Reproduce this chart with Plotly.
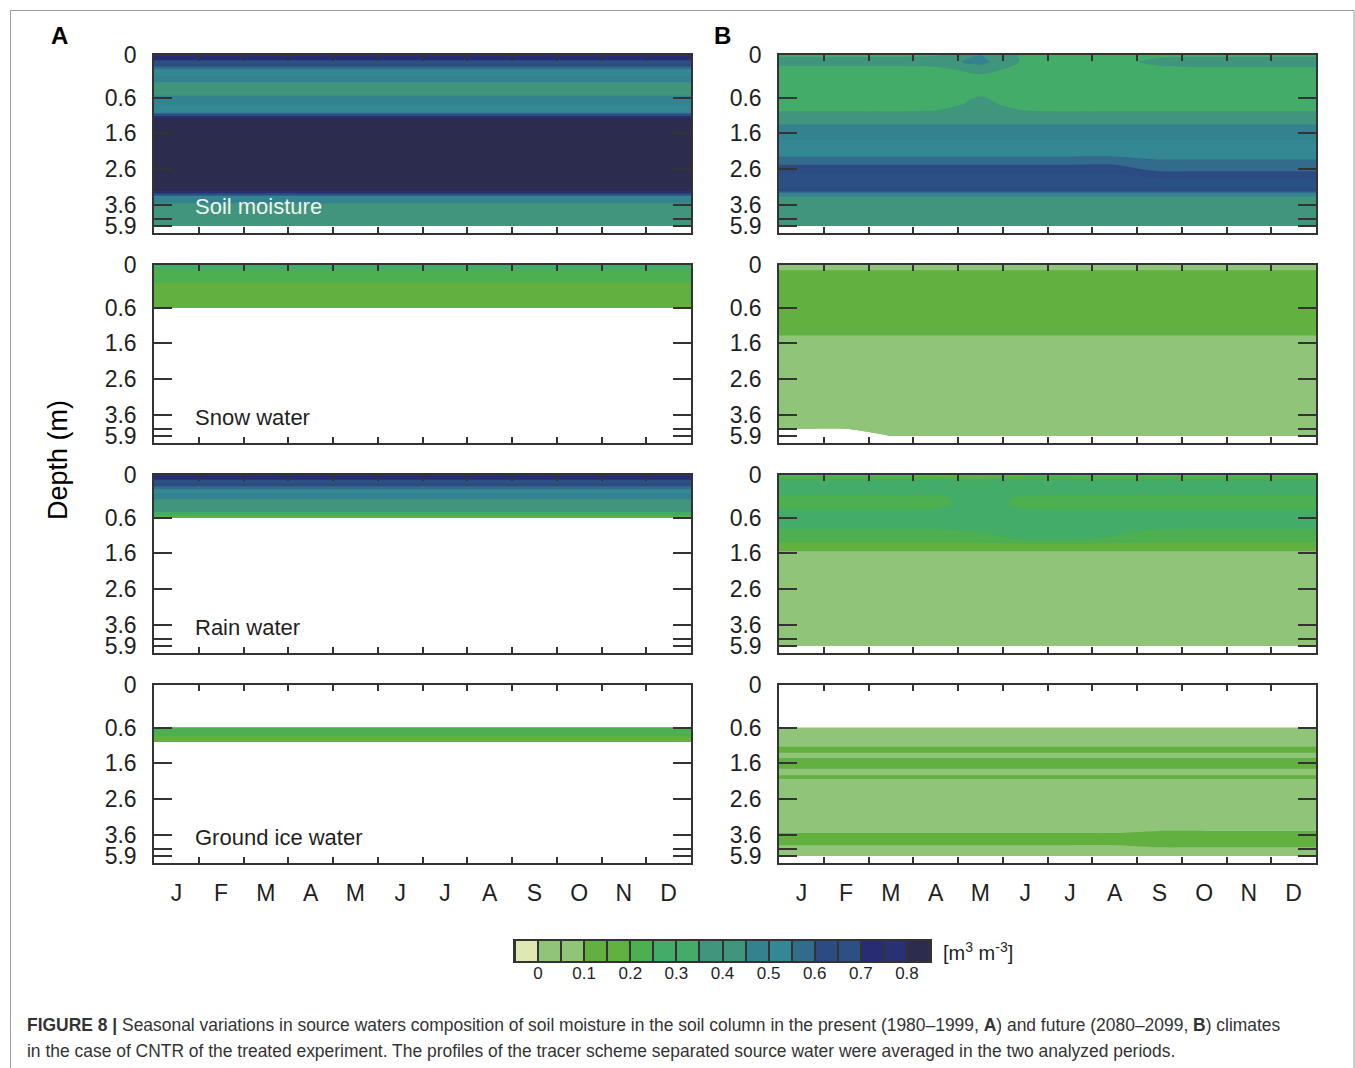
import numpy as np
import plotly.graph_objects as go

W, H = 1355, 1068
FONT = "Liberation Sans, Arial, Helvetica, sans-serif"
INK = "#1f1f1f"
FRAME = "#333333"

# ---------------------------------------------------------------- axes data
months = ["J", "F", "M", "A", "M", "J", "J", "A", "S", "O", "N", "D"]
month_centres = [0.5, 1.5, 2.5, 3.5, 4.5, 5.5, 6.5, 7.5, 8.5, 9.5, 10.5, 11.5]
month_bounds = [1, 2, 3, 4, 5, 6, 7, 8, 9, 10, 11]

# soil nodes (model levels, 0 = surface) and the depth of the labelled nodes [m]
nodes = list(range(25))
node_ticks = [0, 6, 11, 16, 21, 23, 24]
node_tick_text = ["0", "0.6", "1.6", "2.6", "3.6", "", "5.9"]

# colour classes [m3 m-3]
class_edges = [-0.05, 0.0, 0.05, 0.10, 0.15, 0.20, 0.25, 0.30, 0.35, 0.40,
               0.45, 0.50, 0.55, 0.60, 0.65, 0.70, 0.75, 0.80, 0.85]
class_colors = ["#dde9b0", "#90c478", "#90c478", "#62b040", "#62b040", "#4caf50",
                "#43ac68", "#43ac68", "#40957d", "#40957d", "#33828f", "#348893",
                "#336b8c", "#2b4c82", "#2b5084", "#282c72", "#2a3173", "#2c2c4f"]
bar_ticks = [0, 0.1, 0.2, 0.3, 0.4, 0.5, 0.6, 0.7, 0.8]
bar_tick_text = ["0", "0.1", "0.2", "0.3", "0.4", "0.5", "0.6", "0.7", "0.8"]

N = None  # no water of this source at the node

# ------------------------------------------- present climate (1980-1999), per node
soil_present = [0.76, 0.68, 0.55, 0.50, 0.44, 0.40, 0.47, 0.50, 0.52, 0.84, 0.84, 0.84,
                0.84, 0.84, 0.84, 0.84, 0.84, 0.84, 0.84, 0.84, 0.50, 0.44, 0.40, 0.40, 0.40]
snow_present = [0.27, 0.24, 0.21, 0.19, 0.18, 0.17, 0.16, N, N, N, N, N,
                N, N, N, N, N, N, N, N, N, N, N, N, N]
rain_present = [0.76, 0.67, 0.55, 0.47, 0.42, 0.40, 0.15, N, N, N, N, N,
                N, N, N, N, N, N, N, N, N, N, N, N, N]
ice_present = [N, N, N, N, N, N, 0.22, 0.22, 0.12, N, N, N,
               N, N, N, N, N, N, N, N, N, N, N, N, N]

# ------------------------- future climate (2080-2099), node x month (J ... D)
soil_future = [
    [0.33, 0.33, 0.33, 0.34, 0.45, 0.33, 0.32, 0.32, 0.33, 0.33, 0.33, 0.33],
    [0.40, 0.40, 0.40, 0.41, 0.48, 0.33, 0.30, 0.32, 0.38, 0.40, 0.40, 0.40],
    [0.31, 0.31, 0.31, 0.32, 0.40, 0.30, 0.29, 0.30, 0.32, 0.33, 0.33, 0.33],
    [0.29, 0.29, 0.29, 0.29, 0.33, 0.29, 0.28, 0.28, 0.29, 0.29, 0.29, 0.29],
    [0.28, 0.28, 0.28, 0.28, 0.30, 0.28, 0.28, 0.28, 0.28, 0.28, 0.28, 0.28],
    [0.28, 0.28, 0.28, 0.28, 0.31, 0.28, 0.28, 0.28, 0.28, 0.28, 0.28, 0.28],
    [0.29, 0.29, 0.29, 0.29, 0.36, 0.29, 0.29, 0.29, 0.29, 0.29, 0.29, 0.29],
    [0.30, 0.30, 0.30, 0.31, 0.38, 0.31, 0.30, 0.30, 0.30, 0.30, 0.30, 0.30],
    [0.355, 0.355, 0.355, 0.36, 0.39, 0.36, 0.355, 0.355, 0.355, 0.355, 0.355, 0.355],
    [0.42, 0.42, 0.42, 0.42, 0.42, 0.42, 0.42, 0.42, 0.42, 0.42, 0.42, 0.42],
    [0.46, 0.46, 0.46, 0.46, 0.46, 0.46, 0.46, 0.46, 0.46, 0.46, 0.46, 0.46],
    [0.49, 0.49, 0.49, 0.49, 0.49, 0.49, 0.49, 0.49, 0.49, 0.49, 0.49, 0.49],
    [0.50, 0.50, 0.50, 0.50, 0.50, 0.50, 0.50, 0.50, 0.50, 0.50, 0.50, 0.50],
    [0.52, 0.52, 0.52, 0.52, 0.52, 0.52, 0.52, 0.52, 0.52, 0.52, 0.52, 0.52],
    [0.54, 0.54, 0.54, 0.54, 0.54, 0.54, 0.54, 0.54, 0.53, 0.53, 0.53, 0.53],
    [0.58, 0.58, 0.58, 0.58, 0.58, 0.58, 0.58, 0.58, 0.56, 0.56, 0.56, 0.56],
    [0.63, 0.63, 0.63, 0.63, 0.63, 0.63, 0.63, 0.63, 0.58, 0.58, 0.58, 0.58],
    [0.66, 0.66, 0.66, 0.66, 0.66, 0.66, 0.66, 0.66, 0.64, 0.64, 0.64, 0.64],
    [0.67, 0.67, 0.67, 0.67, 0.67, 0.67, 0.67, 0.67, 0.67, 0.67, 0.67, 0.67],
    [0.64, 0.64, 0.64, 0.64, 0.64, 0.64, 0.64, 0.64, 0.64, 0.64, 0.64, 0.64],
    [0.42, 0.42, 0.42, 0.42, 0.42, 0.42, 0.42, 0.42, 0.42, 0.42, 0.42, 0.42],
    [0.41, 0.41, 0.41, 0.41, 0.41, 0.41, 0.41, 0.41, 0.41, 0.41, 0.41, 0.41],
    [0.41, 0.41, 0.41, 0.41, 0.41, 0.41, 0.41, 0.41, 0.41, 0.41, 0.41, 0.41],
    [0.41, 0.41, 0.41, 0.41, 0.41, 0.41, 0.41, 0.41, 0.41, 0.41, 0.41, 0.41],
    [0.41, 0.41, 0.41, 0.41, 0.41, 0.41, 0.41, 0.41, 0.41, 0.41, 0.41, 0.41],
]
snow_future = [
    [0.07, 0.07, 0.07, 0.07, 0.07, 0.07, 0.07, 0.07, 0.07, 0.07, 0.07, 0.07],
    [0.11, 0.11, 0.11, 0.11, 0.11, 0.11, 0.11, 0.11, 0.11, 0.11, 0.11, 0.11],
    [0.15, 0.15, 0.15, 0.15, 0.15, 0.15, 0.15, 0.15, 0.15, 0.15, 0.15, 0.15],
    [0.15, 0.15, 0.15, 0.15, 0.15, 0.15, 0.15, 0.15, 0.15, 0.15, 0.15, 0.15],
    [0.15, 0.15, 0.15, 0.15, 0.15, 0.15, 0.15, 0.15, 0.15, 0.15, 0.15, 0.15],
    [0.15, 0.15, 0.15, 0.15, 0.15, 0.15, 0.15, 0.15, 0.15, 0.15, 0.15, 0.15],
    [0.15, 0.15, 0.15, 0.15, 0.15, 0.15, 0.15, 0.15, 0.15, 0.15, 0.15, 0.15],
    [0.15, 0.15, 0.15, 0.15, 0.15, 0.15, 0.15, 0.15, 0.15, 0.15, 0.15, 0.15],
    [0.15, 0.15, 0.15, 0.15, 0.15, 0.15, 0.15, 0.15, 0.15, 0.15, 0.15, 0.15],
    [0.15, 0.15, 0.15, 0.15, 0.15, 0.15, 0.15, 0.15, 0.15, 0.15, 0.15, 0.15],
    [0.095, 0.095, 0.095, 0.095, 0.095, 0.095, 0.095, 0.095, 0.095, 0.095, 0.095, 0.095],
    [0.07, 0.07, 0.07, 0.07, 0.07, 0.07, 0.07, 0.07, 0.07, 0.07, 0.07, 0.07],
    [0.07, 0.07, 0.07, 0.07, 0.07, 0.07, 0.07, 0.07, 0.07, 0.07, 0.07, 0.07],
    [0.07, 0.07, 0.07, 0.07, 0.07, 0.07, 0.07, 0.07, 0.07, 0.07, 0.07, 0.07],
    [0.07, 0.07, 0.07, 0.07, 0.07, 0.07, 0.07, 0.07, 0.07, 0.07, 0.07, 0.07],
    [0.07, 0.07, 0.07, 0.07, 0.07, 0.07, 0.07, 0.07, 0.07, 0.07, 0.07, 0.07],
    [0.07, 0.07, 0.07, 0.07, 0.07, 0.07, 0.07, 0.07, 0.07, 0.07, 0.07, 0.07],
    [0.07, 0.07, 0.07, 0.07, 0.07, 0.07, 0.07, 0.07, 0.07, 0.07, 0.07, 0.07],
    [0.07, 0.07, 0.07, 0.07, 0.07, 0.07, 0.07, 0.07, 0.07, 0.07, 0.07, 0.07],
    [0.07, 0.07, 0.07, 0.07, 0.07, 0.07, 0.07, 0.07, 0.07, 0.07, 0.07, 0.07],
    [0.07, 0.07, 0.07, 0.07, 0.07, 0.07, 0.07, 0.07, 0.07, 0.07, 0.07, 0.07],
    [0.07, 0.07, 0.07, 0.07, 0.07, 0.07, 0.07, 0.07, 0.07, 0.07, 0.07, 0.07],
    [0.07, 0.07, 0.07, 0.07, 0.07, 0.07, 0.07, 0.07, 0.07, 0.07, 0.07, 0.07],
    [0.07, 0.07, 0.07, 0.07, 0.07, 0.07, 0.07, 0.07, 0.07, 0.07, 0.07, 0.07],
    [N, N, 0.07, 0.07, 0.07, 0.07, 0.07, 0.07, 0.07, 0.07, 0.07, 0.07],
]
rain_future = [
    [0.18, 0.18, 0.18, 0.17, 0.10, 0.18, 0.18, 0.18, 0.18, 0.18, 0.18, 0.18],
    [0.30, 0.30, 0.30, 0.30, 0.30, 0.30, 0.30, 0.30, 0.30, 0.30, 0.30, 0.30],
    [0.30, 0.30, 0.30, 0.30, 0.30, 0.30, 0.30, 0.30, 0.30, 0.30, 0.30, 0.30],
    [0.24, 0.24, 0.24, 0.24, 0.28, 0.24, 0.24, 0.24, 0.24, 0.24, 0.24, 0.24],
    [0.23, 0.23, 0.23, 0.23, 0.28, 0.23, 0.23, 0.23, 0.23, 0.23, 0.23, 0.23],
    [0.255, 0.255, 0.255, 0.255, 0.29, 0.255, 0.255, 0.255, 0.255, 0.255, 0.255, 0.255],
    [0.30, 0.30, 0.30, 0.30, 0.30, 0.30, 0.30, 0.30, 0.30, 0.30, 0.30, 0.30],
    [0.28, 0.28, 0.28, 0.28, 0.28, 0.28, 0.28, 0.28, 0.28, 0.28, 0.28, 0.28],
    [0.23, 0.23, 0.23, 0.23, 0.25, 0.27, 0.27, 0.26, 0.23, 0.23, 0.23, 0.23],
    [0.22, 0.22, 0.22, 0.22, 0.23, 0.255, 0.255, 0.24, 0.22, 0.22, 0.22, 0.22],
    [0.17, 0.17, 0.17, 0.17, 0.17, 0.17, 0.17, 0.17, 0.17, 0.17, 0.17, 0.17],
    [0.07, 0.07, 0.07, 0.07, 0.07, 0.07, 0.07, 0.07, 0.07, 0.07, 0.07, 0.07],
    [0.07, 0.07, 0.07, 0.07, 0.07, 0.07, 0.07, 0.07, 0.07, 0.07, 0.07, 0.07],
    [0.07, 0.07, 0.07, 0.07, 0.07, 0.07, 0.07, 0.07, 0.07, 0.07, 0.07, 0.07],
    [0.07, 0.07, 0.07, 0.07, 0.07, 0.07, 0.07, 0.07, 0.07, 0.07, 0.07, 0.07],
    [0.07, 0.07, 0.07, 0.07, 0.07, 0.07, 0.07, 0.07, 0.07, 0.07, 0.07, 0.07],
    [0.07, 0.07, 0.07, 0.07, 0.07, 0.07, 0.07, 0.07, 0.07, 0.07, 0.07, 0.07],
    [0.07, 0.07, 0.07, 0.07, 0.07, 0.07, 0.07, 0.07, 0.07, 0.07, 0.07, 0.07],
    [0.07, 0.07, 0.07, 0.07, 0.07, 0.07, 0.07, 0.07, 0.07, 0.07, 0.07, 0.07],
    [0.07, 0.07, 0.07, 0.07, 0.07, 0.07, 0.07, 0.07, 0.07, 0.07, 0.07, 0.07],
    [0.07, 0.07, 0.07, 0.07, 0.07, 0.07, 0.07, 0.07, 0.07, 0.07, 0.07, 0.07],
    [0.07, 0.07, 0.07, 0.07, 0.07, 0.07, 0.07, 0.07, 0.07, 0.07, 0.07, 0.07],
    [0.07, 0.07, 0.07, 0.07, 0.07, 0.07, 0.07, 0.07, 0.07, 0.07, 0.07, 0.07],
    [0.07, 0.07, 0.07, 0.07, 0.07, 0.07, 0.07, 0.07, 0.07, 0.07, 0.07, 0.07],
    [0.07, 0.07, 0.07, 0.07, 0.07, 0.07, 0.07, 0.07, 0.07, 0.07, 0.07, 0.07],
]
ice_future = [
    [N, N, N, N, N, N, N, N, N, N, N, N],
    [N, N, N, N, N, N, N, N, N, N, N, N],
    [N, N, N, N, N, N, N, N, N, N, N, N],
    [N, N, N, N, N, N, N, N, N, N, N, N],
    [N, N, N, N, N, N, N, N, N, N, N, N],
    [N, N, N, N, N, N, N, N, N, N, N, N],
    [0.08, 0.08, 0.08, 0.08, 0.08, 0.08, 0.08, 0.08, 0.08, 0.08, 0.08, 0.08],
    [0.08, 0.08, 0.08, 0.08, 0.08, 0.08, 0.08, 0.08, 0.08, 0.08, 0.08, 0.08],
    [0.08, 0.08, 0.08, 0.08, 0.08, 0.08, 0.08, 0.08, 0.08, 0.08, 0.08, 0.08],
    [0.11, 0.11, 0.11, 0.11, 0.11, 0.11, 0.11, 0.11, 0.11, 0.11, 0.11, 0.11],
    [0.09, 0.09, 0.09, 0.09, 0.09, 0.09, 0.09, 0.09, 0.09, 0.09, 0.09, 0.09],
    [0.13, 0.13, 0.13, 0.13, 0.13, 0.13, 0.13, 0.13, 0.13, 0.13, 0.13, 0.13],
    [0.09, 0.09, 0.09, 0.09, 0.09, 0.09, 0.09, 0.09, 0.09, 0.09, 0.09, 0.09],
    [0.105, 0.105, 0.105, 0.105, 0.105, 0.105, 0.105, 0.105, 0.105, 0.105, 0.105, 0.105],
    [0.08, 0.08, 0.08, 0.08, 0.08, 0.08, 0.08, 0.08, 0.08, 0.08, 0.08, 0.08],
    [0.08, 0.08, 0.08, 0.08, 0.08, 0.08, 0.08, 0.08, 0.08, 0.08, 0.08, 0.08],
    [0.08, 0.08, 0.08, 0.08, 0.08, 0.08, 0.08, 0.08, 0.08, 0.08, 0.08, 0.08],
    [0.08, 0.08, 0.08, 0.08, 0.08, 0.08, 0.08, 0.08, 0.08, 0.08, 0.08, 0.08],
    [0.08, 0.08, 0.08, 0.08, 0.08, 0.08, 0.08, 0.08, 0.08, 0.08, 0.08, 0.08],
    [0.08, 0.08, 0.08, 0.08, 0.08, 0.08, 0.08, 0.08, 0.08, 0.08, 0.08, 0.08],
    [0.08, 0.08, 0.08, 0.08, 0.08, 0.08, 0.08, 0.08, 0.08, 0.08, 0.08, 0.08],
    [0.105, 0.105, 0.105, 0.105, 0.105, 0.105, 0.105, 0.105, 0.12, 0.12, 0.12, 0.12],
    [0.12, 0.12, 0.12, 0.12, 0.12, 0.12, 0.12, 0.12, 0.12, 0.12, 0.12, 0.12],
    [0.08, 0.08, 0.08, 0.08, 0.08, 0.08, 0.08, 0.08, 0.095, 0.095, 0.095, 0.095],
    [0.08, 0.08, 0.08, 0.08, 0.08, 0.08, 0.08, 0.08, 0.08, 0.08, 0.08, 0.08],
]

panel_names = ["Soil moisture", "Snow water", "Rain water", "Ground ice water"]
present = [soil_present, snow_present, rain_present, ice_present]
future = [soil_future, snow_future, rain_future, ice_future]

# ---------------------------------------------------------------- geometry (px)
col_left = [154, 779]
col_width = 537
row_top = [55, 265, 475, 685]
row_height = 178
NODATA = -10.0  # pushed below the lowest class -> drawn blank


def px(x):
    return x / W


def py(y):
    return 1 - y / H


def stepped(colors):
    """Discrete scale where fill region r of a contour trace gets colors[r]."""
    n = len(colors) - 1
    scale = []
    for r, c in enumerate(colors):
        scale.append([max(0.0, (r - 0.5) / n), c])
        scale.append([min(1.0, (r + 0.5) / n), c])
    return scale


panel_scale = stepped(["#ffffff"] + class_colors)
x_nodes = [0.0] + month_centres + [12.0]


def field(values):
    z = np.array(values, dtype=float)
    if z.ndim == 1:  # profile that holds through the year
        z = np.repeat(z[:, None], len(months), axis=1)
    z = np.where(np.isnan(z), NODATA, z)
    return np.pad(z, ((0, 0), (1, 1)), mode="edge")


fig = go.Figure()
layout_axes = {}
annotations = []

for row in range(4):
    for col in range(2):
        k = row * 2 + col + 1
        z = field(present[row] if col == 0 else future[row])
        fig.add_trace(go.Contour(
            x=x_nodes, y=nodes, z=z, xaxis=f"x{k}", yaxis=f"y{k}",
            autocontour=False,
            contours=dict(start=class_edges[0], end=class_edges[-2],
                          size=0.05, coloring="fill", showlines=False),
            colorscale=panel_scale, showscale=False,
            line=dict(width=0, smoothing=0.6), hoverinfo="skip",
        ))
        bottom = row == 3
        x0 = col_left[col]
        y0 = row_top[row]
        layout_axes[f"xaxis{k}"] = dict(
            domain=[px(x0), px(x0 + col_width)], anchor=f"y{k}", range=[0, 12],
            automargin=False,
            showline=True, mirror="ticks", linecolor=FRAME, linewidth=1.5,
            tickvals=month_centres, ticktext=months, ticks="",
            showticklabels=bottom, ticklabelstandoff=9,
            tickfont=dict(family=FONT, size=23, color=INK),
            minor=dict(tickvals=month_bounds, ticks="inside", ticklen=6,
                       tickwidth=1.5, tickcolor=FRAME),
            showgrid=False, zeroline=False, fixedrange=True,
        )
        layout_axes[f"yaxis{k}"] = dict(
            domain=[py(y0 + row_height), py(y0)], anchor=f"x{k}", range=[25, 0],
            automargin=False,
            showline=True, mirror="ticks", linecolor=FRAME, linewidth=1.5,
            tickvals=node_ticks, ticktext=node_tick_text, ticks="inside",
            ticklen=18, tickwidth=1.5, tickcolor=FRAME, ticklabelstandoff=11,
            tickfont=dict(family=FONT, size=23, color=INK),
            showgrid=False, zeroline=False, fixedrange=True,
        )
    annotations.append(dict(
        text=panel_names[row], x=px(193), y=py(row_top[row] + 152),
        xref="paper", yref="paper", xanchor="left", yanchor="middle",
        showarrow=False,
        font=dict(family=FONT, size=22, color="#f2f2f2" if row == 0 else INK),
    ))

# ---------------------------------------------------------------- colour key
bar_centres = [(a + b) / 2 for a, b in zip(class_edges[:-1], class_edges[1:])]
n_cls = len(class_colors)
bar_scale = []
for i, c in enumerate(class_colors):
    bar_scale += [[i / n_cls, c], [(i + 1) / n_cls, c]]

fig.add_trace(go.Heatmap(
    x=bar_centres, y=[0], z=[bar_centres], xaxis="x9", yaxis="y9",
    colorscale=bar_scale, zmin=class_edges[0], zmax=class_edges[-1],
    showscale=False, xgap=2, hoverinfo="skip",
))
kx0, kx1, ky0, ky1 = 515, 930, 941, 961
layout_axes["xaxis9"] = dict(
    domain=[px(kx0), px(kx1)], anchor="y9",
    range=[class_edges[0], class_edges[-1]], automargin=False,
    showline=True, mirror=True, linecolor=FRAME, linewidth=1.5,
    tickvals=bar_ticks, ticktext=bar_tick_text, ticks="", ticklabelstandoff=-4,
    tickfont=dict(family=FONT, size=17, color=INK),
    showgrid=False, zeroline=False, fixedrange=True,
)
layout_axes["yaxis9"] = dict(
    domain=[py(ky1), py(ky0)], anchor="x9", range=[-0.5, 0.5], automargin=False,
    showline=True, mirror=True, linecolor=FRAME, linewidth=1.5,
    showticklabels=False, ticks="", showgrid=False, zeroline=False, fixedrange=True,
)

shapes = [
    dict(type="rect", xref="paper", yref="paper", layer="below",
         x0=px(kx0), x1=px(kx1), y0=py(ky1), y1=py(ky0),
         fillcolor=FRAME, line=dict(width=0)),
    dict(type="rect", xref="paper", yref="paper",
         x0=px(10.5), x1=px(1354), y0=py(1080), y1=py(10.5),
         line=dict(color="#9c9c9c", width=1)),
]

CAPTION_FONT = dict(family=FONT, size=17.45, color="#333")
annotations += [
    dict(text="<b>A</b>", x=px(59), y=py(35), xanchor="center", yanchor="middle",
         font=dict(family=FONT, size=24, color="#000")),
    dict(text="<b>B</b>", x=px(722), y=py(35), xanchor="center", yanchor="middle",
         font=dict(family=FONT, size=24, color="#000")),
    dict(text="Depth (m)", x=px(58), y=py(460), textangle=-90,
         xanchor="center", yanchor="middle",
         font=dict(family=FONT, size=27, color="#000")),
    dict(text="[m<sup>3</sup> m<sup>-3</sup>]", x=px(941), y=py(951),
         xanchor="left", yanchor="middle",
         font=dict(family=FONT, size=20, color=INK)),
    dict(text="<b>FIGURE 8 |</b> Seasonal variations in source waters composition of soil "
              "moisture in the soil column in the present (1980–1999, <b>A</b>) and future "
              "(2080–2099, <b>B</b>) climates",
         x=px(25), y=py(1025), xanchor="left", yanchor="middle", font=CAPTION_FONT),
    dict(text="in the case of CNTR of the treated experiment. The profiles of the tracer "
              "scheme separated source water were averaged in the two analyzed periods.",
         x=px(25), y=py(1051), xanchor="left", yanchor="middle", font=CAPTION_FONT),
]
for a in annotations:
    a.setdefault("xref", "paper")
    a.setdefault("yref", "paper")
    a.setdefault("showarrow", False)

fig.update_layout(
    template="none",
    width=W, height=H, margin=dict(l=0, r=0, t=0, b=0, autoexpand=False),
    paper_bgcolor="white", plot_bgcolor="white",
    showlegend=False, annotations=annotations, shapes=shapes,
    font=dict(family=FONT, color=INK),
    **layout_axes,
)

fig.write_html("out.html")
